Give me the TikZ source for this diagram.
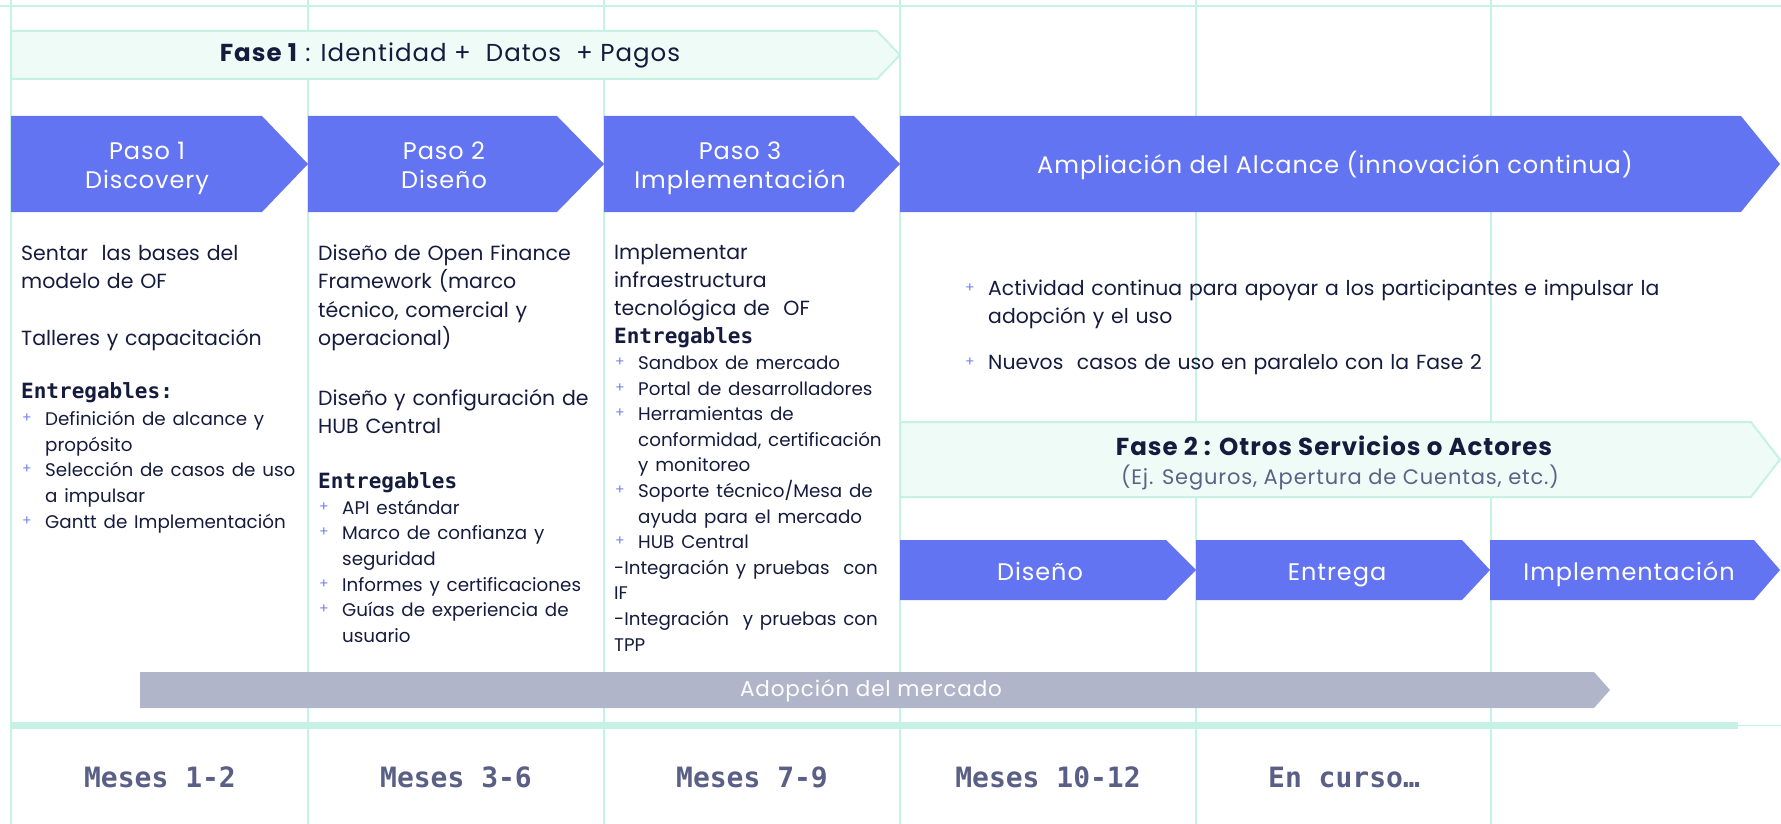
\documentclass[tikz,border=0pt]{standalone}
\usepackage{fontspec}
\setmainfont{Poppins}
\setmonofont{DejaVu Sans Mono}
\usepackage{xcolor}
\usetikzlibrary{positioning, arrows.meta}
\setlength{\parindent}{0pt}

\definecolor{stepblue}{HTML}{6374F2}
\definecolor{plusblue}{HTML}{7583F2}
\definecolor{gridmint}{HTML}{C6F2E6}
\definecolor{fasefill}{HTML}{EEFBF7}
\definecolor{adoptgray}{HTML}{B0B5C9}
\definecolor{inknavy}{HTML}{151B3D}
\definecolor{monthgray}{HTML}{5A5F85}
\definecolor{subgray}{HTML}{5A6386}

\newcommand{\entfont}{\ttfamily\bfseries\fontsize{21}{28.5}\selectfont}
\newcommand{\itemfont}{\fontsize{18.3}{25.6}\selectfont}
\newcommand{\tracked}{\addfontfeatures{LetterSpace=4}}
\newcommand{\plusitem}[1]{\par\hangindent=24pt\hangafter=1\noindent
  \makebox[24pt][l]{\hspace{1pt}\raisebox{3pt}{\textcolor{plusblue}{\fontsize{14}{14}\selectfont+}}}\strut #1\par}

\begin{document}
\begin{tikzpicture}[
    x=1pt, y=-1pt,
    every node/.style={inner sep=0pt, text=inknavy},
    gridline/.style={draw=gridmint, line width=1.5pt},
    fasebox/.style={fill=fasefill, draw=gridmint, line width=2pt},
    steptext/.style={text=white, align=center, font=\fontsize{24}{29}\selectfont\tracked,
      execute at begin node=\strut, execute at end node=\strut},
    coltext/.style={anchor=north west, text width=400pt, align=left, font=\fontsize{20.5}{28.5}\selectfont},
    month/.style={text=monthgray, font=\ttfamily\bfseries\fontsize{28}{30}\selectfont}
]
\useasboundingbox (0,0) rectangle (1781,824);

% grid
\draw[gridline] (0,6) -- (1781,6);
\foreach \x in {11,308,604,900,1196,1491}
  \draw[gridline] (\x,0) -- (\x,824);
\fill[gridmint] (11,722) rectangle (1738,729);
\draw[gridline] (1738,725.5) -- (1781,725.5);

% Fase 1
\draw[fasebox] (11,31) -- (877,31) -- (900,55) -- (877,79) -- (11,79) -- cycle;
\node (fase1) at (450,55) {\fontsize{24.5}{26}\selectfont\tracked\textbf{Fase 1} : Identidad +\ \ Datos\ \ + Pagos};

% pasos
\foreach \xa/\xb/\xc in {11/262/308, 308/557/604, 604/854/900, 900/1741/1780}
  \fill[stepblue] (\xa,116) -- (\xb,116) -- (\xc,164) -- (\xb,212) -- (\xa,212) -- cycle;
\node[steptext] (paso1) at (147,169.5) {Paso 1\\Discovery};
\node[steptext] (paso2) at (444,169.5) {Paso 2\\Diseño};
\node[steptext] (paso3) at (740,169.5) {Paso 3\\Implementación};
\node[steptext] (ampl) at (1335,167) {Ampliación del Alcance (innovación continua)};

% textos por columna
\node[coltext] (discText) at (21,240) {\strut Sentar\ \ las bases del\\
  modelo de OF\\[28.5pt]
  Talleres y capacitación\\[24.5pt]
  {\entfont Entregables:}\par\vspace{1.5pt}
  {\itemfont
  \plusitem{Definición de alcance y\newline propósito}
  \plusitem{Selección de casos de uso\newline a impulsar}
  \plusitem{Gantt de Implementación}}};

\node[coltext] (disenoText) at (318,240) {\strut Diseño de Open Finance\\
  Framework (marco\\
  técnico, comercial y\\
  operacional)\\[31pt]
  Diseño y configuración de\\
  HUB Central\\[26.5pt]
  {\entfont Entregables}\par
  {\itemfont
  \plusitem{API estándar}
  \plusitem{Marco de confianza y\newline seguridad}
  \plusitem{Informes y certificaciones}
  \plusitem{Guías de experiencia de\newline usuario}}};

\node[coltext, font=\fontsize{20.5}{28}\selectfont] (implText) at (614,240) {\strut Implementar\\
  infraestructura\\
  tecnológica de\ \ OF\\
  {\entfont Entregables}\par
  {\itemfont
  \plusitem{Sandbox de mercado}
  \plusitem{Portal de desarrolladores}
  \plusitem{Herramientas de\newline conformidad, certificación\newline y monitoreo}
  \plusitem{Soporte técnico/Mesa de\newline ayuda para el mercado}
  \plusitem{HUB Central}
  -Integración y pruebas\ \ con\newline IF\par
  -Integración\ \ y pruebas con\newline TPP\par}};

\node[coltext, text width=800pt, font=\fontsize{20.4}{28}\selectfont] (ongoing) at (964,267) {%
  \plusitem{Actividad continua para apoyar a los participantes e impulsar la\newline adopción y el uso}
  \vspace{18pt}
  \plusitem{Nuevos\ \ casos de uso en paralelo con la Fase 2}};

% Fase 2
\draw[fasebox] (900,422) -- (1751,422) -- (1780,459.5) -- (1751,497) -- (900,497) -- cycle;
\node (fase2) at (1334,446) {\fontsize{24.5}{26}\selectfont\tracked\bfseries Fase 2 : Otros Servicios o Actores};
\node[text=subgray] (fase2sub) at (1340,478) {\fontsize{21}{22}\selectfont\tracked (Ej. Seguros, Apertura de Cuentas, etc.)};

\foreach \xa/\xb/\xc in {900/1166/1196, 1196/1462/1490, 1490/1754/1780}
  \fill[stepblue] (\xa,540) -- (\xb,540) -- (\xc,570) -- (\xb,600) -- (\xa,600) -- cycle;
\node[steptext] (diseno) at (1040,575) {Diseño};
\node[steptext] (entrega) at (1337,575) {Entrega};
\node[steptext] (implem) at (1629,575) {Implementación};

% adopcion
\fill[adoptgray] (140,672) -- (1594,672) -- (1610,690) -- (1594,708) -- (140,708) -- cycle;
\node[text=white] (adopcion) at (871,691) {\fontsize{21.5}{22}\selectfont\tracked Adopción del mercado};

% meses
\node[month] (m1) at (160,777) {Meses 1-2};
\node[month] (m2) at (456,777) {Meses 3-6};
\node[month] (m3) at (752,777) {Meses 7-9};
\node[month] (m4) at (1048,777) {Meses 10-12};
\node[month] (m5) at (1344,777) {En curso…};

\end{tikzpicture}
\end{document}
